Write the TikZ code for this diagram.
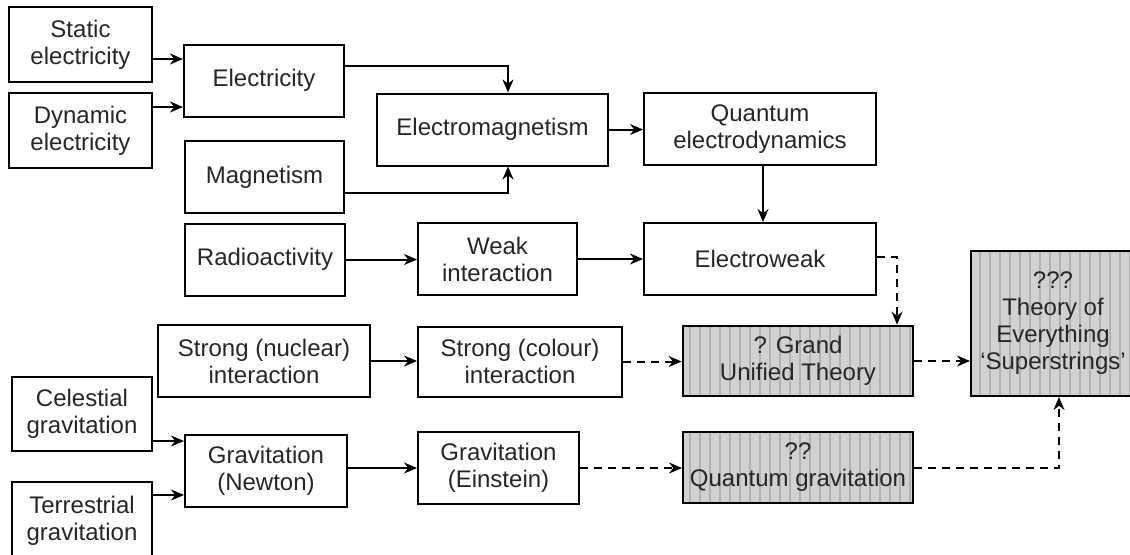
\documentclass[tikz,border=0pt]{standalone}
\usepackage{fontspec}
\setmainfont{Liberation Sans}
\usetikzlibrary{arrows.meta,patterns.meta}
\tikzset{block/.style={draw,line width=1pt,align=center,inner sep=0pt,minimum height=36pt,text=black!85,font=\fontsize{12}{13.5}\selectfont},
         grey/.style={block,preaction={fill=black!18},pattern={Lines[angle=90,distance=5pt,line width=1.4pt]},pattern color=black!30}
}
\tikzstyle{arrow} = [line width=1pt,-{Stealth[length=6.5pt,width=5.5pt]}]
\tikzstyle{darrow} = [arrow,dash pattern=on 4pt off 3pt]

\begin{document}
\begin{tikzpicture}[x=0.5pt,y=-0.5pt]
\useasboundingbox (0,0) rectangle (1130,554);
\clip (0,0) rectangle (1130,554);

\node[block,minimum width=71.5pt,minimum height=37.5pt] (static) at (80.5,44.5) {Static\\electricity};
\node[block,minimum width=71.5pt,minimum height=37.5pt] (dynamic) at (80.5,130.5) {Dynamic\\electricity};
\node[block,minimum width=80pt] (elec) at (264,80.5) {Electricity};
\node[block,minimum width=79.5pt] (mag) at (264.5,177) {Magnetism};
\node[block,minimum width=80pt] (radio) at (265,259.5) {Radioactivity};
\node[block,minimum width=115.5pt] (em) at (492.5,129.5) {Electromagnetism};
\node[block,minimum width=116pt] (qed) at (760,129) {Quantum\\electrodynamics};
\node[block,minimum width=79.5pt] (weak) at (497.5,259) {Weak\\interaction};
\node[block,minimum width=116pt] (ew) at (760,259) {Electroweak};
\node[block,minimum width=106pt] (strongn) at (264,361) {Strong (nuclear)\\interaction};
\node[block,minimum width=102pt,minimum height=35pt] (strongc) at (520,361.5) {Strong (colour)\\interaction};
\node[grey,minimum width=115pt,minimum height=35pt] (gut) at (798,361) {? Grand\\Unified Theory};
\node[grey,minimum width=82pt,minimum height=72.5pt] (toe) at (1053,323.5) {???\\Theory of\\Everything\\`Superstrings'};
\node[block,minimum width=70pt,minimum height=37pt] (celes) at (82,414) {Celestial\\gravitation};
\node[block,minimum width=70pt,minimum height=39pt] (terr) at (82,521) {Terrestrial\\gravitation};
\node[block,minimum width=81pt] (newton) at (266,470.5) {Gravitation\\(Newton)};
\node[block,minimum width=80.5pt] (einstein) at (498.5,468) {Gravitation\\(Einstein)};
\node[grey,minimum width=115pt,minimum height=35.5pt] (qg) at (798,467.5) {??\\Quantum gravitation};

% electricity and magnetism
\coordinate (s1) at ([yshift=-7.25pt]static.east);
\coordinate (s2) at ([yshift=11.75pt]dynamic.east);
\draw[arrow] (s1) -- (s1 -| elec.west);
\draw[arrow] (s2) -- (s2 -| elec.west);
\draw[arrow] ([yshift=7.25pt]elec.east) -| ([xshift=7.75pt]em.north);
\draw[arrow] ([yshift=-8pt]mag.east) -| ([xshift=7.75pt]em.south);
\draw[arrow] (em.east) -- (em.east -| qed.west);
\draw[arrow] ([xshift=1.5pt]qed.south) -- ([xshift=1.5pt]ew.north);

% weak and strong
\draw[arrow] (radio.east) -- (radio.east -| weak.west);
\draw[arrow] (weak.east) -- (ew.west);
\draw[darrow] ([yshift=1pt]ew.east) -| ([xshift=49.5pt]gut.north);
\draw[arrow] (strongn.east) -- (strongn.east -| strongc.west);
\draw[darrow] (strongc.east) -- (strongc.east -| gut.west);
\draw[darrow] (gut.east) -- (gut.east -| toe.west);

% gravitation
\coordinate (g1) at ([yshift=-13.5pt]celes.east);
\coordinate (g2) at ([yshift=13pt]terr.east);
\draw[arrow] (g1) -- (g1 -| newton.west);
\draw[arrow] (g2) -- (g2 -| newton.west);
\draw[arrow] (einstein.west -| newton.east) -- (einstein.west);
\draw[darrow] (einstein.east) -- (einstein.east -| qg.west);
\draw[darrow] (qg.east) -| ([xshift=3pt]toe.south);

\end{tikzpicture}
\end{document}
